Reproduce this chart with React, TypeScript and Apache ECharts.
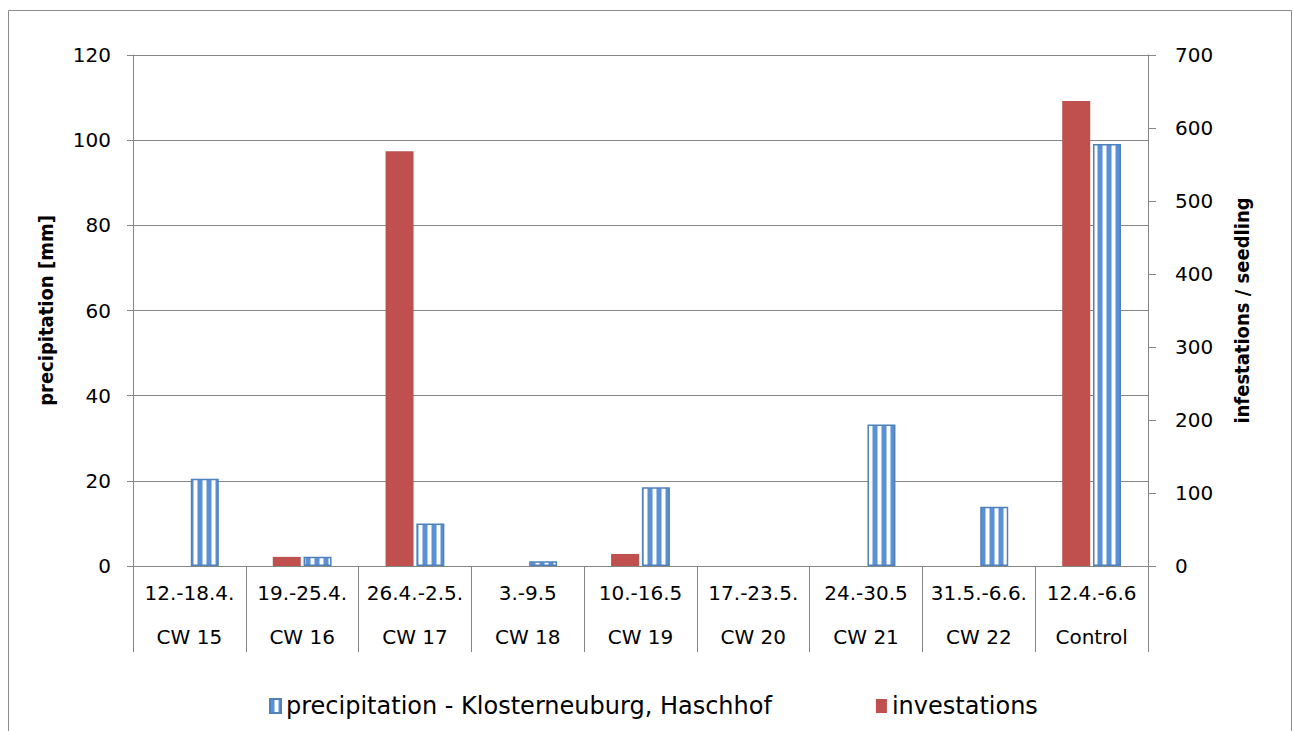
import React, { useEffect, useRef } from "react";
import * as echarts from "echarts";

const dateRanges = ["12.-18.4.", "19.-25.4.", "26.4.-2.5.", "3.-9.5", "10.-16.5", "17.-23.5.", "24.-30.5", "31.5.-6.6.", "12.4.-6.6"];
const weeks = ["CW 15", "CW 16", "CW 17", "CW 18", "CW 19", "CW 20", "CW 21", "CW 22", "Control"];
const precipitation = [20.5, 2.2, 10.0, 1.1, 18.5, 0, 33.2, 13.9, 99.1];
const infestations = [0, 12.5, 568, 0, 16.5, 0, 0, 0, 637];
const leftTicks = { min: 0, max: 120, interval: 20 };
const rightTicks = { min: 0, max: 700, interval: 100 };
const seriesNames = ["precipitation - Klosterneuburg, Haschhof", "investations"];

function makeStripe() {
  const c = document.createElement("canvas");
  c.width = 9;
  c.height = 4;
  const ctx = c.getContext("2d")!;
  ctx.fillStyle = "#ffffff";
  ctx.fillRect(0, 0, 9, 4);
  ctx.fillStyle = "#5B8FD6";
  ctx.fillRect(0, 0, 4, 4);
  ctx.fillStyle = "#A9C6EC";
  ctx.fillRect(4, 0, 1, 4);
  ctx.fillRect(8, 0, 1, 4);
  return c;
}

const tickFont = "'DejaVu Sans', sans-serif";
const narrowFont = "'Liberation Sans Narrow', 'DejaVu Sans Condensed', sans-serif";

export default function App() {
  const ref = useRef<HTMLDivElement>(null);
  useEffect(() => {
    document.body.style.margin = "0";
    const chart = echarts.init(ref.current!, undefined, { renderer: "svg" });
    const stripe = makeStripe();
    chart.setOption({
      animation: false,
      backgroundColor: "#ffffff",
      graphic: [
        {
          type: "rect",
          shape: { x: 8.5, y: 10.5, width: 1283, height: 760 },
          style: { fill: "none", stroke: "#8c8c8c", lineWidth: 1 },
          silent: true,
        },
      ],
      grid: { left: 133, right: 145, top: 55, bottom: 165 },
      legend: {
        data: [
          { name: seriesNames[0], icon: "rect" },
          { name: seriesNames[1], icon: "rect" },
        ],
        left: 264,
        top: 689,
        itemWidth: 11,
        itemHeight: 14,
        itemGap: 104,
        textStyle: { fontFamily: tickFont, fontSize: 24, color: "#000" },
      },
      xAxis: {
        type: "category",
        data: dateRanges.map((d, i) => `${d}\n${weeks[i]}`),
        axisLine: { lineStyle: { color: "#868686", width: 1 } },
        axisTick: { show: true, length: 86, alignWithLabel: false, lineStyle: { color: "#868686" } },
        axisLabel: {
          margin: 5,
          interval: 0,
          formatter: (v: string) => {
            const [a, b] = v.split("\n");
            return `{d|${a}}\n{w|${b}}`;
          },
          rich: {
            d: { fontFamily: tickFont, fontSize: 20, lineHeight: 44, color: "#000" },
            w: { fontFamily: tickFont, fontSize: 20, lineHeight: 44, color: "#000" },
          },
        },
      },
      yAxis: [
        {
          type: "value",
          ...leftTicks,
          name: "precipitation [mm]",
          nameLocation: "middle",
          nameGap: 77,
          nameTextStyle: { fontFamily: narrowFont, fontWeight: "bold", fontSize: 20, color: "#000" },
          axisLine: { show: true, lineStyle: { color: "#868686" } },
          axisTick: { show: true, length: 6, lineStyle: { color: "#868686" } },
          axisLabel: { margin: 22, fontFamily: tickFont, fontSize: 20, color: "#000" },
          splitLine: { show: true, lineStyle: { color: "#868686", width: 1 } },
        },
        {
          type: "value",
          ...rightTicks,
          position: "right",
          name: "infestations / seedling",
          nameLocation: "middle",
          nameGap: 84,
          nameTextStyle: { fontFamily: narrowFont, fontWeight: "bold", fontSize: 20, color: "#000" },
          axisLine: { show: true, lineStyle: { color: "#868686" } },
          axisTick: { show: true, length: 8, lineStyle: { color: "#868686" } },
          axisLabel: { margin: 27, fontFamily: tickFont, fontSize: 20, color: "#000" },
          splitLine: { show: false },
        },
      ],
      series: [
        {
          name: seriesNames[1],
          type: "bar",
          yAxisIndex: 1,
          data: infestations,
          barWidth: 28,
          barGap: "10%",
          itemStyle: { color: "#C0504D" },
        },
        {
          name: seriesNames[0],
          type: "bar",
          yAxisIndex: 0,
          data: precipitation.map((v) => (v === 0 ? { value: v, itemStyle: { borderWidth: 0 } } : v)),
          barWidth: 28,
          barGap: "10%",
          itemStyle: {
            color: { image: stripe, repeat: "repeat" },
            borderColor: "#4F81BD",
            borderWidth: 1.5,
          },
        },
      ],
    });
    return () => chart.dispose();
  }, []);
  return <div ref={ref} style={{ width: 1293, height: 731 }} />;
}
